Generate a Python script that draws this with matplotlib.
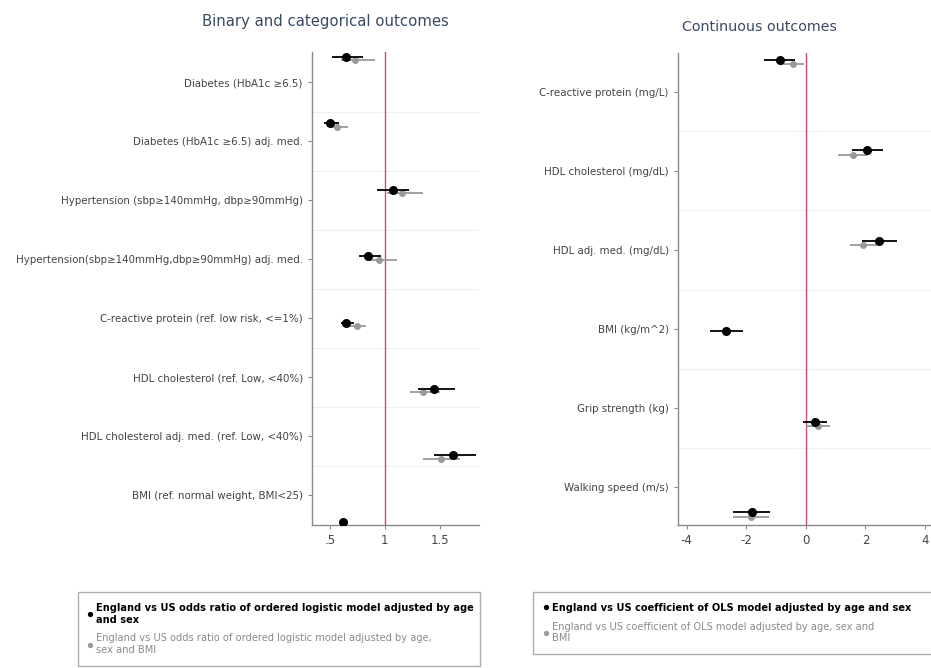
import numpy as np
import matplotlib.pyplot as plt
import matplotlib as mpl
from matplotlib.lines import Line2D
mpl.use('Agg')

# binary / categorical outcomes (odds ratios)
bin_labels = ['Diabetes (HbA1c \u22656.5)',
              'Diabetes (HbA1c \u22656.5) adj. med.',
              'Hypertension (sbp\u2265140mmHg, dbp\u226590mmHg)',
              'Hypertension(sbp\u2265140mmHg,dbp\u226590mmHg) adj. med.',
              'C-reactive protein (ref. low risk, <=1%)',
              'HDL cholesterol (ref. Low, <40%)',
              'HDL cholesterol adj. med. (ref. Low, <40%)',
              'BMI (ref. normal weight, BMI<25)']
bin_est1 = [0.65, 0.50, 1.07, 0.85, 0.65, 1.45, 1.62, 0.62]
bin_lo1 = [0.52, 0.45, 0.93, 0.76, 0.60, 1.30, 1.45, 0.58]
bin_hi1 = [0.80, 0.58, 1.22, 0.96, 0.72, 1.64, 1.83, 0.66]
bin_est2 = [0.73, 0.56, 1.16, 0.95, 0.75, 1.35, 1.51, np.nan]
bin_lo2 = [0.60, 0.49, 1.02, 0.84, 0.68, 1.23, 1.35, np.nan]
bin_hi2 = [0.91, 0.66, 1.35, 1.11, 0.83, 1.50, 1.68, np.nan]

# continuous outcomes (OLS coefficients)
cont_labels = ['C-reactive protein (mg/L)',
               'HDL cholesterol (mg/dL)',
               'HDL adj. med. (mg/dL)',
               'BMI (kg/m^2)',
               'Grip strength (kg)',
               'Walking speed (m/s)']
cont_est1 = [-0.87, 2.05, 2.45, -2.68, 0.30, -1.81]
cont_lo1 = [-1.40, 1.55, 1.90, -3.22, -0.10, -2.45]
cont_hi1 = [-0.35, 2.58, 3.05, -2.11, 0.70, -1.20]
cont_est2 = [-0.44, 1.58, 1.91, np.nan, 0.40, -1.85]
cont_lo2 = [-0.90, 1.07, 1.48, np.nan, 0.00, -2.45]
cont_hi2 = [-0.05, 2.10, 2.40, np.nan, 0.80, -1.25]

leg_bin = ['England vs US odds ratio of ordered logistic model adjusted by age\nand sex',
           'England vs US odds ratio of ordered logistic model adjusted by age,\nsex and BMI']
leg_cont = ['England vs US coefficient of OLS model adjusted by age and sex',
            'England vs US coefficient of OLS model adjusted by age, sex and\nBMI']

REF = '#c8506e'
GRAY = '#9a9a9a'
SPINE = '#8a8a8a'


def coef_panel(ax, labels, est1, lo1, hi1, est2, lo2, hi2, ref,
               tick_off, tick_step, ylim):
  n = len(labels)
  pos = np.arange(n)
  e1, e2 = np.array(est1), np.array(est2)
  err1 = [e1 - np.array(lo1), np.array(hi1) - e1]
  err2 = [e2 - np.array(lo2), np.array(hi2) - e2]

  ax.axvline(ref, color=REF, lw=1.0, zorder=1)
  ax.errorbar(e2, pos + 0.05, xerr=err2, fmt='o', color=GRAY, ms=4,
              elinewidth=1.3, capsize=0, zorder=3)
  ax.errorbar(e1, pos, xerr=err1, fmt='o', color='black', ms=5.5,
              elinewidth=1.3, capsize=0, zorder=4)

  ticks = tick_off + tick_step * np.arange(n)
  ax.set_yticks(ticks)
  ax.set_yticklabels(labels, fontsize=7.4, color='#444444')
  for g in ticks[:-1] + tick_step / 2:
    ax.axhline(g, color='#efefef', lw=0.8, zorder=0)
  ax.set_ylim(*ylim)

  for s in ['top', 'right']:
    ax.spines[s].set_visible(False)
  for s in ['left', 'bottom']:
    ax.spines[s].set_color(SPINE)
    ax.spines[s].set_linewidth(1.0)
  ax.tick_params(colors=SPINE, labelcolor='#444444', length=3, width=0.8)
  ax.tick_params(axis='x', labelsize=8.5)


fig = plt.figure(figsize=(9.31, 6.68), dpi=100)

ax1 = fig.add_axes([0.335, 0.214, 0.180, 0.708])
coef_panel(ax1, bin_labels, bin_est1, bin_lo1, bin_hi1,
           bin_est2, bin_lo2, bin_hi2, 1, 0.377, 0.889, (7.05, -0.075))
ax1.set_xlim(0.336, 1.86)
ax1.set_xticks([0.5, 1, 1.5])
ax1.set_xticklabels(['.5', '1', '1.5'])

ax2 = fig.add_axes([0.728, 0.214, 0.272, 0.707])
coef_panel(ax2, cont_labels, cont_est1, cont_lo1, cont_hi1,
           cont_est2, cont_lo2, cont_hi2, 0, 0.354, 0.874, (5.14, -0.077))
ax2.set_xlim(-4.3, 4.2)
ax2.set_xticks([-4, -2, 0, 2, 4])
ax2.set_xticklabels(['-4', '-2', '0', '2', '4'])

fig.text(0.350, 0.968, 'Binary and categorical outcomes', ha='center',
         va='center', fontsize=10.7, color='#3a4a62')
fig.text(0.816, 0.960, 'Continuous outcomes', ha='center', va='center',
         fontsize=10.3, color='#3a4a62')

for texts, box in [(leg_bin, (0.078, 0.121, 0.443, 0.0)),
                   (leg_cont, (0.567, 0.121, 0.44, 0.0))]:
  handles = [Line2D([], [], marker='o', ls='', color='black', ms=2.8),
             Line2D([], [], marker='o', ls='', color=GRAY, ms=2.8)]
  leg = fig.legend(handles, texts, loc='upper left', bbox_to_anchor=box,
                   mode='expand', fontsize=7.1, frameon=True, fancybox=False,
                   edgecolor='#999999', handlelength=0.4, handletextpad=0.4,
                   borderpad=1.1, labelspacing=0.9)
  leg.get_frame().set_linewidth(1.0)
  leg.get_texts()[0].set_color('black')
  leg.get_texts()[0].set_fontweight('bold')
  leg.get_texts()[1].set_color('#8a8a8a')

fig.savefig('out.png', dpi=100)
